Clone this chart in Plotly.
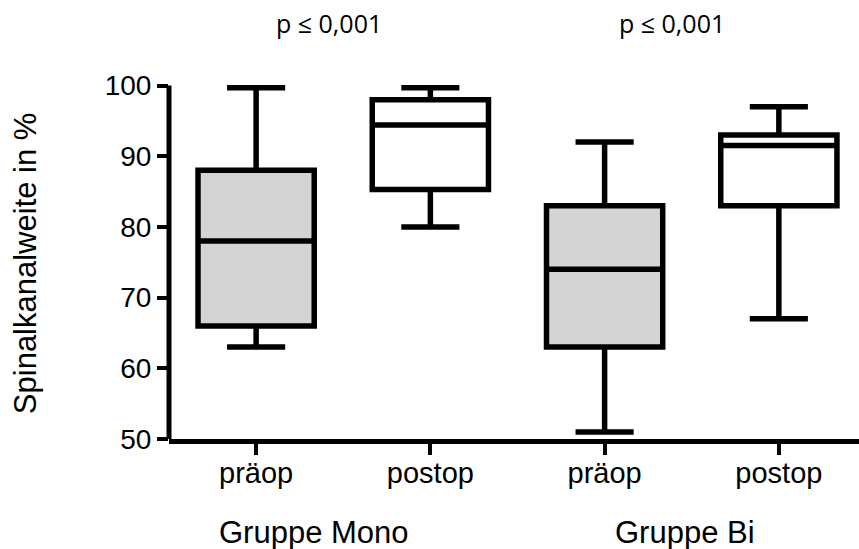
import plotly.graph_objects as go

# Data
categories = ["präop", "postop", "präop", "postop"]
groups = ["Gruppe Mono", "Gruppe Bi"]
lower_whisker = [63, 80, 51, 67]
q1_values = [66, 85.3, 63, 83]
median_values = [78, 94.4, 74, 91.5]
q3_values = [88, 98, 83, 93]
upper_whisker = [99.7, 99.7, 92, 97]
p_labels = ["p \u2264 0,001", "p \u2264 0,001"]
y_ticks = [50, 60, 70, 80, 90, 100]

fills = ["#d4d4d4", "#ffffff", "#d4d4d4", "#ffffff"]
positions = list(range(len(categories)))

fig = go.Figure()
for i, pos in enumerate(positions):
    fig.add_trace(go.Box(
        x=[pos],
        q1=[q1_values[i]],
        median=[median_values[i]],
        q3=[q3_values[i]],
        lowerfence=[lower_whisker[i]],
        upperfence=[upper_whisker[i]],
        width=0.667,
        whiskerwidth=0.5,
        fillcolor=fills[i],
        line=dict(color="black", width=5.5),
        boxpoints=False,
        showlegend=False,
        hoverinfo="skip",
    ))

font_family = "Liberation Sans, Arial, sans-serif"

fig.update_layout(
    width=859, height=549,
    margin=dict(l=169, r=0, t=82, b=110),
    paper_bgcolor="white", plot_bgcolor="white",
    showlegend=False,
    font=dict(family=font_family, color="black"),
    xaxis=dict(
        range=[-0.5, 3.46],
        tickmode="array", tickvals=positions, ticktext=categories,
        showgrid=False, zeroline=False,
        showline=True, linecolor="black", linewidth=4.5,
        ticks="outside", ticklen=11, tickwidth=4, tickcolor="black",
        tickfont=dict(size=29, family=font_family),
        ticklabelstandoff=-7,
    ),
    yaxis=dict(
        range=[50, 100.5],
        tickmode="array", tickvals=y_ticks,
        showgrid=False, zeroline=False, showline=False,
        ticks="outside", ticklen=11, tickwidth=4, tickcolor="black",
        tickfont=dict(size=28, family=font_family),
    ),
)

# y axis line from 50 to 100
fig.add_shape(type="line", xref="paper", yref="y", x0=0, x1=0,
              y0=y_ticks[0], y1=y_ticks[-1],
              line=dict(color="black", width=5))

# y axis title
fig.add_annotation(text="Spinalkanalweite in %", textangle=-90,
                   xref="paper", yref="paper", x=-0.207, y=0.493,
                   xanchor="center", yanchor="middle", showarrow=False,
                   font=dict(size=31, family=font_family))

# group labels
for gx, g in zip([0.333, 2.463], groups):
    fig.add_annotation(text=g, xref="x", yref="paper", x=gx, y=-0.263,
                       xanchor="center", yanchor="middle", showarrow=False,
                       font=dict(size=31, family=font_family))

# p labels
for px, p in zip([0.417, 2.388], p_labels):
    fig.add_annotation(text=p, xref="x", yref="paper", x=px, y=1.165,
                       xanchor="center", yanchor="middle", showarrow=False,
                       font=dict(size=25, family="Open Sans, sans-serif"))

fig.write_html("out.html", config={"displayModeBar": False})

# remove default page margin so the figure sits at the window origin
with open("out.html", "r", encoding="utf-8") as f:
    html = f.read()
html = html.replace("<body>", '<body style="margin:0;padding:0;">', 1)
with open("out.html", "w", encoding="utf-8") as f:
    f.write(html)
